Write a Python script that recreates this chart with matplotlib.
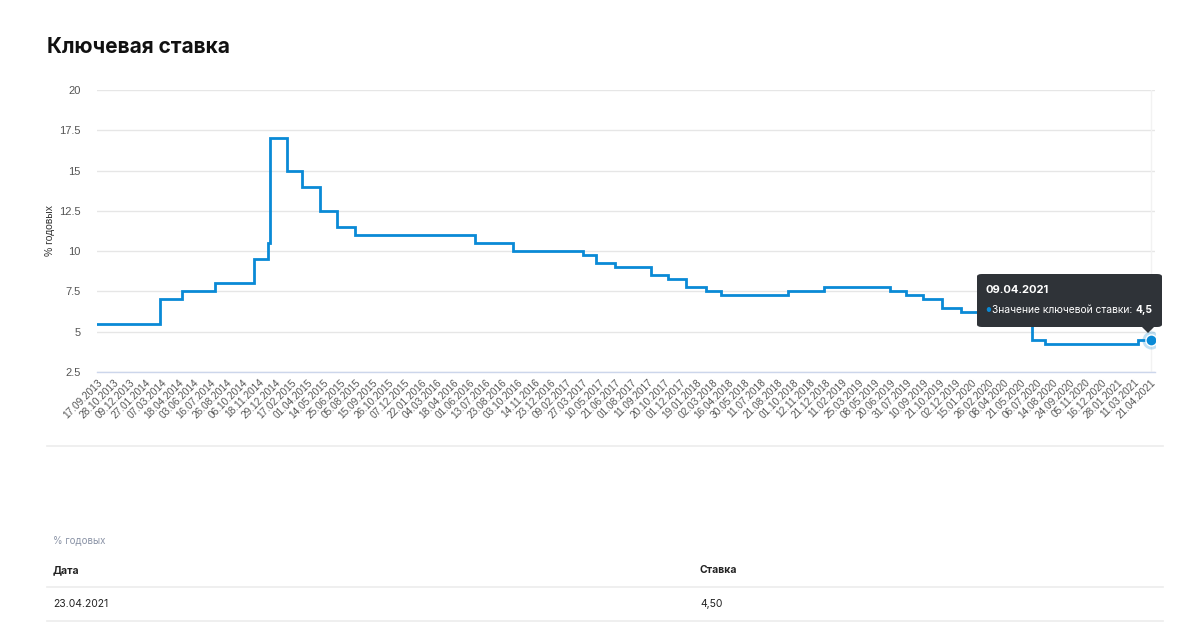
import numpy as np
import pandas as pd
import matplotlib
matplotlib.use("Agg")
import matplotlib.pyplot as plt
from matplotlib.patches import FancyBboxPatch, Polygon

plt.rcParams['font.family'] = ['Inter', 'DejaVu Sans']

# ---- data ----
tick_labels = ["17.09.2013", "28.10.2013", "09.12.2013", "27.01.2014", "07.03.2014", "18.04.2014",
               "03.06.2014", "16.07.2014", "26.08.2014", "06.10.2014", "18.11.2014", "29.12.2014",
               "17.02.2015", "01.04.2015", "14.05.2015", "25.06.2015", "05.08.2015", "15.09.2015",
               "26.10.2015", "07.12.2015", "22.01.2016", "04.03.2016", "18.04.2016", "01.06.2016",
               "13.07.2016", "23.08.2016", "03.10.2016", "14.11.2016", "23.12.2016", "09.02.2017",
               "27.03.2017", "10.05.2017", "21.06.2017", "01.08.2017", "11.09.2017", "20.10.2017",
               "01.12.2017", "19.01.2018", "02.03.2018", "16.04.2018", "30.05.2018", "11.07.2018",
               "21.08.2018", "01.10.2018", "12.11.2018", "21.12.2018", "11.02.2019", "25.03.2019",
               "08.05.2019", "20.06.2019", "31.07.2019", "10.09.2019", "21.10.2019", "02.12.2019",
               "15.01.2020", "26.02.2020", "08.04.2020", "21.05.2020", "06.07.2020", "14.08.2020",
               "24.09.2020", "05.11.2020", "16.12.2020", "28.01.2021", "11.03.2021", "21.04.2021"]

change_dates = ["17.09.2013", "03.03.2014", "28.04.2014", "28.07.2014", "05.11.2014", "12.12.2014",
                "16.12.2014", "02.02.2015", "16.03.2015", "05.05.2015", "16.06.2015", "03.08.2015",
                "14.06.2016", "19.09.2016", "27.03.2017", "02.05.2017", "19.06.2017", "18.09.2017",
                "30.10.2017", "18.12.2017", "12.02.2018", "26.03.2018", "17.09.2018", "17.12.2018",
                "17.06.2019", "29.07.2019", "09.09.2019", "28.10.2019", "16.12.2019", "10.02.2020",
                "27.04.2020", "22.06.2020", "27.07.2020", "22.03.2021"]
rates = [5.5, 7.0, 7.5, 8.0, 9.5, 10.5, 17.0, 15.0, 14.0, 12.5, 11.5, 11.0,
         10.5, 10.0, 9.75, 9.25, 9.0, 8.5, 8.25, 7.75, 7.5, 7.25, 7.5, 7.75,
         7.5, 7.25, 7.0, 6.5, 6.25, 6.0, 5.5, 4.5, 4.25, 4.5]
end_date = "23.04.2021"
end_rate = 4.5

tooltip_date = "09.04.2021"
series_name = "Значение ключевой ставки"
tooltip_value = "4,5"

y_label = "% годовых"
table_unit = "% годовых"
table_headers = ["Дата", "Ставка"]
table_row = ["23.04.2021", "4,50"]

# ---- positions: category axis of trading days, mapped via tick dates ----
tick_dt = pd.to_datetime(tick_labels, format="%d.%m.%Y").values.astype("datetime64[D]").astype(float)
tick_idx = np.arange(len(tick_labels), dtype=float)

def pos(dates):
    d = pd.to_datetime(dates, format="%d.%m.%Y").values.astype("datetime64[D]").astype(float)
    p = np.interp(d, tick_dt, tick_idx)
    slope = 1.0 / (tick_dt[-1] - tick_dt[-2])
    p = np.where(d > tick_dt[-1], tick_idx[-1] + (d - tick_dt[-1]) * slope * 0.8, p)
    return p

xs = list(pos(change_dates)) + [float(pos([end_date])[0])]
ys = rates + [end_rate]

# ---- figure ----
W, H = 1200, 622
fig = plt.figure(figsize=(W / 100, H / 100), dpi=100)
fig.patch.set_facecolor("white")

def fx(px):
    return px / W

def fy(py):
    return 1 - py / H

ax = fig.add_axes([fx(97), fy(372), fx(1155) - fx(97), fy(90) - fy(372)])
ax.set_xlim(0, 65 + 5 / 16.2)
ax.set_ylim(2.5, 20)

line_color = "#0a8ad6"
ax.step(xs, ys, where="post", color=line_color, lw=2.0, solid_joinstyle="miter", zorder=3)

lab_font = ["Liberation Sans", "DejaVu Sans"]
ax.set_yticks(np.arange(2.5, 20.01, 2.5))
ax.set_yticklabels([("%g" % v) for v in np.arange(2.5, 20.01, 2.5)])
ax.grid(axis="y", color="#e6e6e6", lw=1)
ax.set_axisbelow(True)
for s in ["top", "right", "left"]:
    ax.spines[s].set_visible(False)
ax.spines["bottom"].set_color("#ccd6eb")
ax.spines["bottom"].set_linewidth(1)
ax.tick_params(axis="y", length=0, pad=12, labelsize=8, labelcolor="#555555")
ax.set_xticks(tick_idx)
ax.set_xticklabels(tick_labels, rotation=45, ha="right", rotation_mode="anchor",
                   fontsize=7.3, color="#555555", family=lab_font)
ax.tick_params(axis="x", length=0, pad=4)
for lab in ax.get_yticklabels():
    lab.set_family(lab_font)

# y-axis title
fig.text(fx(50), fy(231), y_label, rotation=90, fontsize=7.5, color="#333333",
         family=lab_font, ha="center", va="center")

# crosshair and hover marker
xe, ye = xs[-1], ys[-1]
ax.axvline(xe, color="#f2f2f2", lw=1, zorder=1)
ax.plot([xe], [ye], "o", ms=13, color=line_color, alpha=0.25, zorder=4, markeredgewidth=0)
ax.plot([xe], [ye], "o", ms=8, color=line_color, mec="white", mew=1, zorder=5)

# title
fig.text(fx(47), fy(47), "Ключевая ставка", fontsize=15, fontweight="bold",
         color="#111111", va="center", ha="left")

# tooltip
tip = FancyBboxPatch((fx(977), fy(327)), fx(1162) - fx(977), fy(274) - fy(327),
                     boxstyle="round,pad=0,rounding_size=0.004", transform=fig.transFigure,
                     facecolor="#2f3338", edgecolor="none", zorder=10)
fig.patches.append(tip)
tri = Polygon([[fx(1141), fy(326)], [fx(1155), fy(326)], [fx(1148), fy(333)]],
              closed=True, transform=fig.transFigure, facecolor="#2f3338",
              edgecolor="none", zorder=10)
fig.patches.append(tri)
fig.text(fx(986), fy(290), tooltip_date, fontsize=8, fontweight="bold", color="white",
         va="center", ha="left", zorder=11)
fig.text(fx(984), fy(310), "•", fontsize=10, color=line_color, va="center", ha="left", zorder=11)
t1 = fig.text(fx(992), fy(310), series_name + ":", fontsize=7.4, color="white",
              va="center", ha="left", zorder=11)
ann = fig.text(0, 0, tooltip_value, fontsize=7.4, fontweight="bold", color="white",
               va="center", ha="left", zorder=11)
fig.canvas.draw()
bb = t1.get_window_extent()
ann.set_position((bb.x1 / W + fx(3), fy(310)))

# separators
def hline(py, x0=47, x1=1163, color="#ececec", lw=1.2):
    fig.add_artist(plt.Line2D([fx(x0), fx(x1)], [fy(py), fy(py)], transform=fig.transFigure,
                              color=color, lw=lw))

hline(446)
hline(587)
hline(621)

# table
fig.text(fx(53), fy(540), table_unit, fontsize=7, color="#8a93a6", va="center", ha="left")
fig.text(fx(53), fy(570), table_headers[0], fontsize=7.5, fontweight="bold", color="#222222",
         va="center", ha="left")
fig.text(fx(700), fy(570), table_headers[1], fontsize=7.5, fontweight="bold", color="#222222",
         va="center", ha="left")
fig.text(fx(53), fy(604), table_row[0], fontsize=7.5, color="#222222", va="center", ha="left")
fig.text(fx(700), fy(604), table_row[1], fontsize=7.5, color="#222222", va="center", ha="left")

fig.savefig("out.png", dpi=100, facecolor="white")
